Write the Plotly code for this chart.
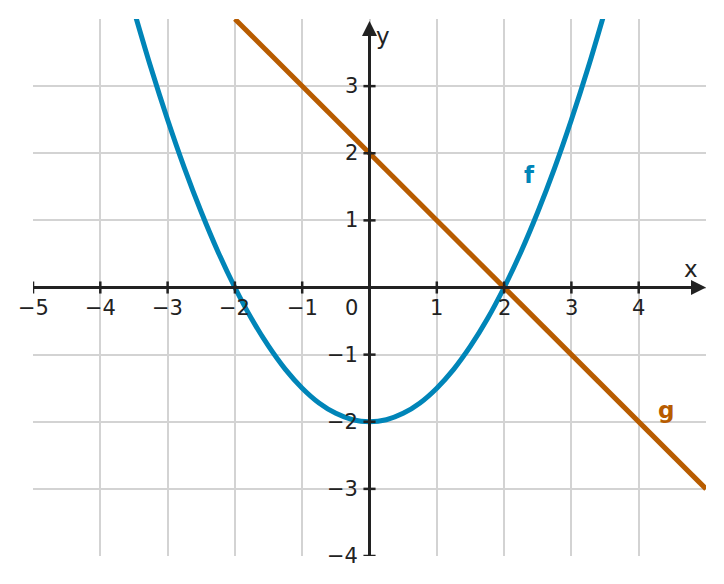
import plotly.graph_objects as go

f_x = [-3.5, -3.25, -3, -2.75, -2.5, -2.25, -2, -1.75, -1.5, -1.25, -1, -0.75, -0.5, -0.25, 0,
       0.25, 0.5, 0.75, 1, 1.25, 1.5, 1.75, 2, 2.25, 2.5, 2.75, 3, 3.25, 3.5]
f_y = [4.125, 3.28, 2.5, 1.78, 1.125, 0.53, 0, -0.47, -0.875, -1.22, -1.5, -1.72, -1.875, -1.97, -2,
       -1.97, -1.875, -1.72, -1.5, -1.22, -0.875, -0.47, 0, 0.53, 1.125, 1.78, 2.5, 3.28, 4.125]
g_x = [-2, 5]
g_y = [4, -3]
x_ticks = [-5, -4, -3, -2, -1, 1, 2, 3, 4]
y_ticks = [-4, -3, -2, -1, 1, 2, 3]

BLUE = "#0085b8"
ORANGE = "#b85c00"
AX = "#222222"
FONT = "DejaVu Sans"
FS = 21

fig = go.Figure()
fig.add_trace(go.Scatter(x=f_x, y=f_y, mode="lines", line=dict(color=BLUE, width=5, shape="spline"), hoverinfo="skip"))
fig.add_trace(go.Scatter(x=g_x, y=g_y, mode="lines", line=dict(color=ORANGE, width=5), hoverinfo="skip"))

shapes = [
    dict(type="line", x0=-5, x1=4.85, y0=0, y1=0, line=dict(color=AX, width=3), layer="above"),
    dict(type="line", x0=0, x1=0, y0=-4, y1=3.85, line=dict(color=AX, width=3), layer="above"),
]
for t in x_ticks:
    shapes.append(dict(type="line", x0=t, x1=t, y0=-0.09, y1=0.09, line=dict(color=AX, width=2.5), layer="above"))
for t in y_ticks:
    shapes.append(dict(type="line", x0=-0.09, x1=0.09, y0=t, y1=t, line=dict(color=AX, width=2.5), layer="above"))

ann = []
for t in x_ticks:
    ann.append(dict(x=t, y=0, text=f"−{abs(t)}" if t < 0 else str(t), showarrow=False, yshift=-20,
                    font=dict(size=FS, color=AX, family=FONT)))
for t in y_ticks:
    ann.append(dict(x=0, y=t, text=f"−{abs(t)}" if t < 0 else str(t), showarrow=False, xshift=-10, xanchor="right",
                    font=dict(size=FS, color=AX, family=FONT)))
ann.append(dict(x=0, y=0, text="0", showarrow=False, xshift=-10, yshift=-20, xanchor="right",
                font=dict(size=FS, color=AX, family=FONT)))
ann.append(dict(x=5, y=0, ax=4.7, ay=0, axref="x", ayref="y", showarrow=True, arrowhead=2, arrowsize=1, arrowwidth=3,
                arrowcolor=AX, text=""))
ann.append(dict(x=0, y=3.97, ax=0, ay=3.7, axref="x", ayref="y", showarrow=True, arrowhead=2, arrowsize=1, arrowwidth=3,
                arrowcolor=AX, text=""))
ann.append(dict(x=4.78, y=0.28, text="x", showarrow=False, font=dict(size=FS+2, color=AX, family=FONT)))
ann.append(dict(x=0.2, y=3.75, text="y", showarrow=False, font=dict(size=FS+2, color=AX, family=FONT)))
ann.append(dict(x=2.37, y=1.67, text="<b>f</b>", showarrow=False, font=dict(size=FS+2, color=BLUE, family=FONT)))
ann.append(dict(x=4.4, y=-1.83, text="<b>g</b>", showarrow=False, font=dict(size=FS+2, color=ORANGE, family=FONT)))

fig.update_layout(
    width=724, height=584, margin=dict(l=25, r=26, t=11, b=36),
    plot_bgcolor="white", paper_bgcolor="white", showlegend=False,
    xaxis=dict(range=[-5, 5], tickvals=list(range(-5, 6)), showticklabels=False, gridcolor="#d3d3d3", gridwidth=1.5,
               zeroline=False, fixedrange=True),
    yaxis=dict(range=[-4, 4], tickvals=list(range(-4, 5)), showticklabels=False, gridcolor="#d3d3d3", gridwidth=1.5,
               zeroline=False, fixedrange=True),
    shapes=shapes, annotations=ann,
)
fig.write_html("out.html")
